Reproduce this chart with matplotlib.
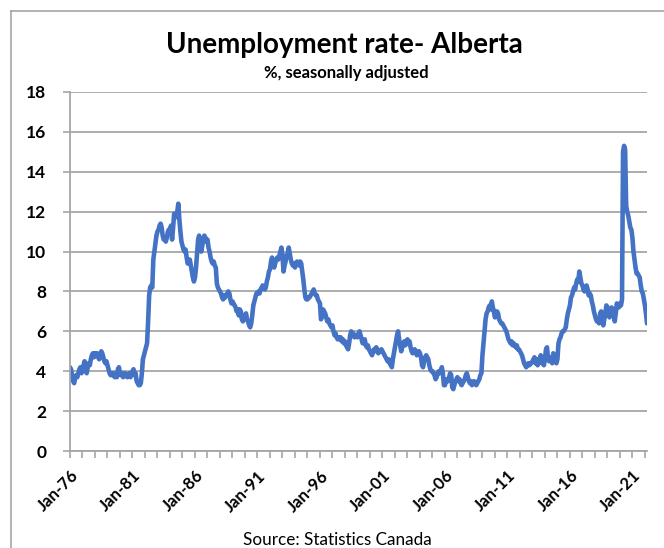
import matplotlib
matplotlib.use("Agg")
import matplotlib.pyplot as plt
from matplotlib.lines import Line2D

plt.rcParams['font.family'] = ['Lato', 'DejaVu Sans']

# monthly unemployment rate, Alberta, % s.a., Jan-76 .. Mar-22
rate = {
    1976: [4.2, 4.1, 3.8, 3.5, 3.4, 3.7, 3.8, 3.7, 3.9, 4.1, 4.2, 3.9],
    1977: [4.0, 4.3, 4.5, 4.2, 3.9, 4.2, 4.4, 4.3, 4.6, 4.8, 4.9, 4.7],
    1978: [4.9, 4.8, 4.9, 4.7, 4.6, 4.8, 5.0, 4.9, 4.7, 4.5, 4.4, 4.5],
    1979: [4.3, 4.1, 3.9, 3.8, 3.9, 3.8, 3.9, 3.7, 3.8, 3.7, 4.1, 4.2],
    1980: [3.9, 3.8, 3.9, 3.7, 3.8, 3.9, 3.8, 3.7, 3.8, 3.9, 3.7, 3.8],
    1981: [4.0, 4.1, 3.8, 3.9, 3.5, 3.4, 3.3, 3.3, 3.4, 3.9, 4.6, 4.8],
    1982: [5.0, 5.2, 5.4, 6.5, 7.8, 8.2, 8.3, 8.2, 9.6, 10.0, 10.4, 10.8],
    1983: [11.0, 11.1, 11.3, 11.4, 11.2, 10.8, 10.6, 10.7, 10.5, 10.7, 11.0, 11.1],
    1984: [11.1, 11.3, 10.6, 11.2, 11.9, 11.7, 11.8, 12.0, 12.4, 11.6, 11.0, 10.5],
    1985: [10.3, 10.1, 10.0, 10.1, 9.7, 9.4, 9.5, 9.6, 9.3, 9.0, 8.7, 8.5],
    1986: [8.7, 9.2, 9.9, 10.6, 10.8, 10.3, 10.0, 10.3, 10.6, 10.8, 10.7, 10.5],
    1987: [10.6, 10.2, 10.0, 9.7, 9.5, 9.4, 9.5, 9.3, 9.2, 8.4, 8.2, 8.1],
    1988: [8.0, 7.9, 7.7, 7.6, 7.8, 7.7, 7.8, 7.9, 8.0, 7.9, 7.6, 7.4],
    1989: [7.5, 7.4, 7.3, 7.2, 7.0, 7.1, 6.8, 7.1, 7.0, 6.6, 6.5, 6.6],
    1990: [6.8, 6.9, 6.6, 6.5, 6.3, 6.2, 6.4, 6.8, 7.3, 7.5, 7.7, 7.9],
    1991: [7.9, 8.0, 7.9, 8.1, 8.2, 8.3, 8.2, 8.1, 8.2, 8.5, 8.7, 9.0],
    1992: [9.1, 9.5, 9.7, 9.4, 9.2, 9.4, 9.6, 9.7, 9.6, 9.8, 10.0, 10.2],
    1993: [9.8, 9.0, 9.3, 9.5, 9.8, 9.9, 10.2, 9.9, 9.6, 9.4, 9.3, 9.4],
    1994: [9.2, 9.4, 9.5, 9.4, 9.3, 9.5, 9.4, 9.0, 8.6, 8.1, 7.7, 7.6],
    1995: [7.6, 7.7, 7.7, 7.8, 7.9, 8.0, 8.1, 7.9, 7.8, 7.8, 7.6, 7.5],
    1996: [7.4, 6.6, 6.8, 7.1, 7.0, 6.9, 6.7, 6.5, 6.6, 6.4, 6.3, 6.2],
    1997: [6.3, 6.0, 5.8, 5.9, 5.7, 5.6, 5.7, 5.6, 5.7, 5.5, 5.6, 5.4],
    1998: [5.5, 5.3, 5.2, 5.1, 5.4, 5.8, 6.0, 5.9, 5.9, 5.7, 5.8, 5.8],
    1999: [5.7, 5.9, 6.0, 5.8, 5.6, 5.4, 5.5, 5.6, 5.3, 5.2, 5.3, 5.1],
    2000: [5.0, 4.9, 4.8, 5.0, 5.1, 5.0, 5.2, 5.1, 4.9, 5.0, 5.0, 5.1],
    2001: [5.0, 4.9, 4.8, 4.7, 4.6, 4.5, 4.6, 4.4, 4.3, 4.2, 4.6, 4.9],
    2002: [5.2, 5.5, 5.8, 6.0, 5.6, 5.3, 5.0, 5.2, 5.4, 5.5, 5.3, 5.5],
    2003: [5.6, 5.4, 5.5, 5.2, 5.0, 4.9, 5.0, 5.1, 5.0, 4.8, 4.9, 5.0],
    2004: [4.9, 4.7, 4.3, 4.2, 4.5, 4.7, 4.8, 4.7, 4.6, 4.3, 4.1, 4.0],
    2005: [4.0, 3.9, 3.8, 3.6, 3.7, 3.9, 4.0, 3.9, 4.0, 4.2, 3.9, 3.3],
    2006: [3.3, 3.5, 3.6, 3.5, 3.7, 3.9, 3.8, 3.2, 3.1, 3.3, 3.5, 3.6],
    2007: [3.7, 3.5, 3.6, 3.4, 3.3, 3.4, 3.5, 3.6, 3.8, 3.9, 3.7, 3.5],
    2008: [3.4, 3.5, 3.3, 3.4, 3.5, 3.4, 3.3, 3.4, 3.5, 3.6, 3.8, 3.9],
    2009: [4.8, 5.4, 6.0, 6.6, 6.9, 7.0, 7.2, 7.3, 7.1, 7.5, 7.2, 7.0],
    2010: [6.7, 6.9, 7.0, 6.9, 6.6, 6.5, 6.4, 6.4, 6.3, 6.2, 6.1, 6.0],
    2011: [5.8, 5.6, 5.5, 5.4, 5.5, 5.3, 5.4, 5.3, 5.2, 5.3, 5.1, 5.1],
    2012: [5.0, 4.9, 4.8, 4.6, 4.4, 4.3, 4.2, 4.3, 4.4, 4.3, 4.4, 4.4],
    2013: [4.5, 4.6, 4.7, 4.4, 4.6, 4.3, 4.5, 4.6, 4.8, 4.4, 4.5, 4.3],
    2014: [4.6, 5.1, 5.2, 4.6, 4.5, 4.7, 4.6, 4.4, 4.9, 4.8, 4.5, 4.4],
    2015: [4.6, 5.4, 5.6, 5.7, 5.9, 6.0, 6.0, 6.1, 6.2, 6.6, 6.9, 7.1],
    2016: [7.3, 7.7, 7.8, 8.0, 8.2, 8.1, 8.4, 8.6, 8.5, 9.0, 8.7, 8.4],
    2017: [8.3, 8.1, 8.0, 8.2, 8.3, 8.1, 7.8, 7.9, 7.8, 7.5, 7.3, 7.0],
    2018: [6.8, 6.6, 6.5, 6.6, 6.4, 6.9, 7.0, 6.8, 6.3, 6.6, 6.9, 7.3],
    2019: [7.2, 6.8, 6.7, 6.8, 7.2, 7.1, 6.9, 6.5, 6.9, 7.4, 7.3, 7.2],
    2020: [7.4, 7.3, 7.6, 15.0, 15.3, 15.1, 12.3, 12.0, 11.8, 11.5, 11.2, 11.1],
    2021: [10.7, 10.0, 9.6, 9.2, 8.9, 8.9, 8.8, 8.7, 8.3, 8.0, 7.9, 7.6],
    2022: [7.3, 6.9, 6.4],
}
years = list(rate.keys())
values = [v for y in years for v in rate[y]]
label_years = list(range(1976, 2022, 5))
tick_labels = ['Jan-%02d' % (y % 100) for y in label_years]

fig = plt.figure(figsize=(6.64, 5.48), dpi=100)
ax = fig.add_axes([70/664, 1 - 451/548, 577/664, 359/548])

ax.plot(range(len(values)), values, color='#4472C4', lw=3.3,
        solid_joinstyle='round', solid_capstyle='round')

ax.set_xlim(0, len(values) - 1)
ax.set_ylim(0, 18)
ax.set_yticks(range(0, 19, 2))
ax.grid(axis='y', color='#A6A6A6', lw=1.3)
ax.set_axisbelow(True)

ax.set_xticks(range(0, len(values), 12), minor=True)
ax.set_xticks([(y - 1976) * 12 for y in label_years])
ax.set_xticklabels(tick_labels, rotation=45, ha='right', rotation_mode='anchor',
                   fontsize=12, fontweight='bold')
ax.tick_params(axis='x', which='both', length=5, width=1.2, color='#A6A6A6', pad=7)
ax.tick_params(axis='y', length=5, width=1.2, color='#A6A6A6', labelsize=12.5, pad=12)
for lab in ax.get_yticklabels():
    lab.set_fontweight('bold')

for s in ['top', 'right']:
    ax.spines[s].set_visible(False)
for s in ['left', 'bottom']:
    ax.spines[s].set_color('#A6A6A6')
    ax.spines[s].set_linewidth(1.3)

fig.text(344/664, 1 - 45/548, 'Unemployment rate- Alberta', ha='center', va='center',
         fontsize=20, fontweight='bold')
fig.text(346/664, 1 - 73/548, '%, seasonally adjusted', ha='center', va='center',
         fontsize=12, fontweight='bold')
fig.text(337/664, 1 - 540/548, 'Source: Statistics Canada', ha='center', va='center',
         fontsize=12.3)

# chart border (top and left edges visible)
fig.add_artist(Line2D([11/664, 11/664], [0, 1 - 11/548], transform=fig.transFigure,
                      color='#A6A6A6', lw=1.2))
fig.add_artist(Line2D([11/664, 1], [1 - 11/548, 1 - 11/548], transform=fig.transFigure,
                      color='#A6A6A6', lw=1.2))

fig.savefig('out.png', dpi=100)
